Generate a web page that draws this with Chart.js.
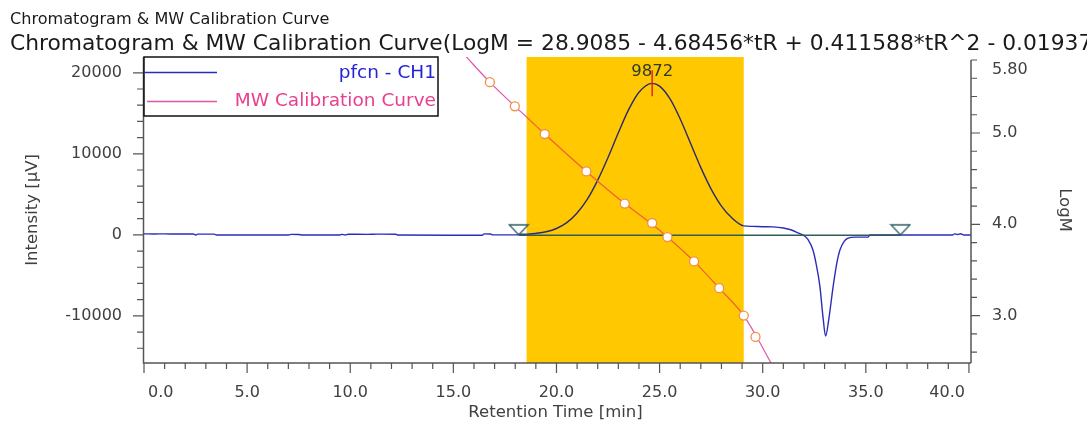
<!DOCTYPE html>
<html>
<head>
<meta charset="utf-8">
<script src="https://cdn.jsdelivr.net/npm/chart.js@4.4.1/dist/chart.umd.min.js"></script>
<style>
  html, body { margin: 0; padding: 0; background: #fff; }
  #chart { display: block; }
</style>
</head>
<body>
<canvas id="chart" width="1087" height="425"></canvas>
<script>
// pfcn - CH1 trace (min, uV)
const traceTime = [0, 0.5, 1.0, 1.6, 2.4, 2.5, 2.6, 3.4, 3.55, 5.0, 7.0, 7.15, 7.5, 7.7, 9.5, 9.6, 9.75, 9.9, 10.8, 11.3,
  12.2, 12.3, 14.8, 16.4, 16.5, 16.8, 16.9, 18.1, 18.2, 18.55, 19.0, 19.5, 20.0, 20.5, 21.0, 21.5, 22.0, 22.5, 23.0, 23.5,
  24.0, 24.64, 25.0, 25.5, 26.0, 26.5, 27.0, 27.5, 28.0, 28.5, 29.08, 29.5, 30.0, 30.5, 31.0, 31.4, 31.7, 32.0, 32.2, 32.44,
  32.6, 32.77, 32.93, 33.05, 33.2, 33.42, 33.6, 33.74, 33.95, 34.14, 34.5, 35.1, 35.2, 39.2, 39.3, 39.45, 39.6, 39.75, 40.1];
const traceIntensity = [120, 110, 120, 100, 110, -20, 90, 90, -20, -30, -30, 60, 40, -30, -30, 60, -20, 80, 60, 90,
  80, -30, -50, -60, 120, 110, 0, 0, 80, 80, 180, 380, 780, 1500, 2700, 4400, 6750, 9550, 12600, 15450,
  17600, 18700, 18350, 16800, 14300, 11300, 8300, 5650, 3550, 2100, 1100, 1040, 1000, 980, 850, 600, 250, -100, -600, -1900,
  -3700, -6300, -10300, -12500, -10500, -6300, -3400, -1900, -800, -400, -280, -280, -20, -20, 120, 40, 130, -20, -20];

// calibration standards (min, LogM)
const calTime = [16.77, 17.98, 19.43, 21.45, 23.31, 24.64, 25.38, 26.67, 27.89, 29.08, 29.65];
const calLogM = [5.557, 5.293, 4.989, 4.579, 4.227, 4.014, 3.860, 3.593, 3.300, 3.000, 2.766];

// MW calibration curve as drawn
const curveTime = [15.5, 16.77, 17.98, 18.55, 19.43, 21.45, 23.31, 24.64, 25.38, 26.67, 27.89, 29.08, 29.65, 30.6];
const curveLogM = [5.866, 5.557, 5.293, 5.176, 4.989, 4.579, 4.227, 4.0, 3.86, 3.593, 3.30, 3.0, 2.79, 2.395];

// integration baseline and its start/end marks
const baselineTime = [18.17, 36.68];
const baselineIntensity = [-60, -60];

// peak top
const peakTime = [24.64];
const peakIntensity = [18700];
const peakLabel = '9872';

// MW calculation slice
const sliceRange = [18.55, 29.08];

const xTicks = [0, 5, 10, 15, 20, 25, 30, 35, 40];
const xTickLabels = ['0.0', '5.0', '10.0', '15.0', '20.0', '25.0', '30.0', '35.0', '40.0'];
const yTicks = [20000, 10000, 0, -10000];
const yTickLabels = ['20000', '10000', '0', '-10000'];
const y2Ticks = [5.8, 5.0, 4.0, 3.0];
const y2TickLabels = ['5.80', '5.0', '4.0', '3.0'];

const blue = '#2c2cbc';
const blueInSlice = '#2a2a72';
const pink = '#e055a8';
const pinkInSlice = '#f0603a';
const axisColor = '#555555';
const textColor = '#404040';
const font = '"DejaVu Sans", sans-serif';

function inSlice(ctx) {
    const mid = (ctx.p0.parsed.x + ctx.p1.parsed.x) / 2;
    return mid > sliceRange[0] && mid < sliceRange[1];
}

function makeTriangle() {
    const c = document.createElement('canvas');
    c.width = 22;
    c.height = 24;
    const g = c.getContext('2d');
    g.strokeStyle = '#2f5d6a';
    g.lineWidth = 1.3;
    g.beginPath();
    g.moveTo(1.5, 2);
    g.lineTo(20.5, 2);
    g.lineTo(11, 12);
    g.closePath();
    g.stroke();
    return c;
}

const axesPlugin = {
    id: 'axes',
    beforeDatasetsDraw(chart) {
        // yellow slice band
        const { ctx, chartArea, scales: { x } } = chart;
        const x0 = x.getPixelForValue(sliceRange[0]);
        const x1 = x.getPixelForValue(sliceRange[1]);
        ctx.save();
        ctx.fillStyle = '#ffc800';
        ctx.fillRect(x0, chartArea.top, x1 - x0, chartArea.bottom - chartArea.top);
        ctx.restore();
    },
    afterDraw(chart) {
        const { ctx, chartArea, scales: { x, y, y2 } } = chart;
        const L = chartArea.left, R = chartArea.right, B = chartArea.bottom;
        ctx.save();
        ctx.strokeStyle = axisColor;
        ctx.lineWidth = 1.5;

        // axis lines
        ctx.beginPath();
        ctx.moveTo(L - 0.5, chartArea.top);
        ctx.lineTo(L - 0.5, B);
        ctx.lineTo(R, B);
        ctx.moveTo(R, y2.getPixelForValue(5.8));
        ctx.lineTo(R, B);
        ctx.stroke();

        // tick marks
        ctx.lineWidth = 1.2;
        ctx.beginPath();
        for (let i = 0; i <= 40; i++) {
            const px = x.getPixelForValue(i);
            ctx.moveTo(px, B);
            ctx.lineTo(px, B + (i % 5 === 0 ? 10 : 6));
        }
        for (let v = -14000; v <= 20000; v += 2000) {
            const py = y.getPixelForValue(v);
            ctx.moveTo(L - 0.5, py);
            ctx.lineTo(L - (v % 10000 === 0 ? 11 : 7), py);
        }
        for (let k = 13; k <= 29; k++) {
            const py = y2.getPixelForValue(k / 5);
            ctx.moveTo(R, py);
            ctx.lineTo(R + (k % 5 === 0 ? 9 : 6), py);
        }
        ctx.stroke();

        // tick labels
        ctx.fillStyle = textColor;
        ctx.font = '16px ' + font;
        ctx.textBaseline = 'middle';
        xTicks.forEach((v, i) => {
            const px = x.getPixelForValue(v);
            if (i === 0) { ctx.textAlign = 'left'; ctx.fillText(xTickLabels[i], px + 4, 393); }
            else if (i === xTicks.length - 1) { ctx.textAlign = 'right'; ctx.fillText(xTickLabels[i], px - 4, 393); }
            else { ctx.textAlign = 'center'; ctx.fillText(xTickLabels[i], px, 393); }
        });
        ctx.textAlign = 'right';
        yTicks.forEach((v, i) => ctx.fillText(yTickLabels[i], L - 22, y.getPixelForValue(v)));
        ctx.textAlign = 'left';
        y2Ticks.forEach((v, i) => {
            const off = i === 0 ? 10 : 0;
            ctx.fillText(y2TickLabels[i], R + 21, y2.getPixelForValue(v) + off);
        });

        // axis titles
        ctx.font = '16.5px ' + font;
        ctx.textAlign = 'center';
        ctx.fillText('Retention Time [min]', (L + R) / 2 - 2, 413);
        ctx.save();
        ctx.translate(33, (chartArea.top + B) / 2);
        ctx.rotate(-Math.PI / 2);
        ctx.fillText('Intensity [\u03bcV]', 0, 0);
        ctx.restore();
        ctx.save();
        ctx.translate(1064, (chartArea.top + B) / 2);
        ctx.rotate(Math.PI / 2);
        ctx.fillText('LogM', 0, 0);
        ctx.restore();

        // chart titles
        ctx.fillStyle = '#1a1a1a';
        ctx.textAlign = 'left';
        ctx.font = '16.1px ' + font;
        ctx.fillText('Chromatogram & MW Calibration Curve', 10, 20);
        ctx.font = '21.8px ' + font;
        ctx.fillText('Chromatogram & MW Calibration Curve(LogM = 28.9085 - 4.68456*tR + 0.411588*tR^2 - 0.0193745*tR^3)', 10, 44);

        // peak label
        ctx.fillStyle = '#2f3a2a';
        ctx.font = '16.5px ' + font;
        ctx.textAlign = 'center';
        ctx.fillText(peakLabel, x.getPixelForValue(peakTime[0]), y.getPixelForValue(peakIntensity[0]) - 12);

        // legend box
        ctx.fillStyle = '#ffffff';
        ctx.fillRect(L, chartArea.top, 294, 59);
        ctx.strokeStyle = '#111111';
        ctx.lineWidth = 1.5;
        ctx.strokeRect(L, chartArea.top, 294, 59);
        ctx.lineWidth = 1.3;
        ctx.strokeStyle = blue;
        ctx.beginPath();
        ctx.moveTo(L, 72.5);
        ctx.lineTo(L + 73, 72.5);
        ctx.stroke();
        ctx.strokeStyle = pink;
        ctx.beginPath();
        ctx.moveTo(L + 3, 101.5);
        ctx.lineTo(L + 73, 101.5);
        ctx.stroke();
        ctx.font = '18.5px ' + font;
        ctx.textAlign = 'right';
        ctx.fillStyle = '#2424d8';
        ctx.fillText('pfcn - CH1', L + 292, 73);
        ctx.fillStyle = '#e8408e';
        ctx.fillText('MW Calibration Curve', L + 292, 101);
        ctx.restore();
    }
};

const xy = (xs, ys) => xs.map((v, i) => ({ x: v, y: ys[i] }));

new Chart(document.getElementById('chart'), {
    type: 'line',
    data: {
        datasets: [
            {
                data: xy(calTime, calLogM),
                yAxisID: 'y2',
                showLine: false,
                pointRadius: 4.5,
                pointBackgroundColor: '#ffffff',
                pointBorderColor: '#f09048',
                pointBorderWidth: 1.3,
                order: 0
            },
            {
                data: xy(baselineTime, [0, 0]),
                yAxisID: 'y',
                showLine: false,
                pointStyle: makeTriangle(),
                pointRadius: 8,
                order: 0
            },
            {
                data: xy(peakTime, peakIntensity),
                yAxisID: 'y',
                showLine: false,
                pointStyle: 'line',
                rotation: 90,
                pointRadius: 13,
                pointBorderColor: '#e02828',
                pointBorderWidth: 1.5,
                order: 1
            },
            {
                data: xy(curveTime, curveLogM),
                yAxisID: 'y2',
                borderColor: pink,
                borderWidth: 1.2,
                pointRadius: 0,
                cubicInterpolationMode: 'monotone',
                segment: { borderColor: c => inSlice(c) ? pinkInSlice : pink },
                order: 2
            },
            {
                data: xy(baselineTime, baselineIntensity),
                yAxisID: 'y',
                borderColor: '#2f5d5a',
                borderWidth: 1.4,
                pointRadius: 0,
                order: 3
            },
            {
                data: xy(traceTime, traceIntensity),
                yAxisID: 'y',
                borderColor: blue,
                borderWidth: 1.4,
                pointRadius: 0,
                cubicInterpolationMode: 'monotone',
                segment: { borderColor: c => inSlice(c) ? blueInSlice : blue },
                order: 4
            }
        ]
    },
    options: {
        responsive: false,
        animation: false,
        events: [],
        layout: { padding: { left: 144, top: 57, right: 116, bottom: 62 } },
        plugins: { legend: { display: false }, tooltip: { enabled: false } },
        scales: {
            x: { type: 'linear', min: 0, max: 40.1, display: false },
            y: { type: 'linear', min: -15820, max: 21950, display: false },
            y2: { type: 'linear', position: 'right', min: 2.48, max: 5.833, display: false }
        }
    },
    plugins: [axesPlugin]
});
</script>
</body>
</html>
